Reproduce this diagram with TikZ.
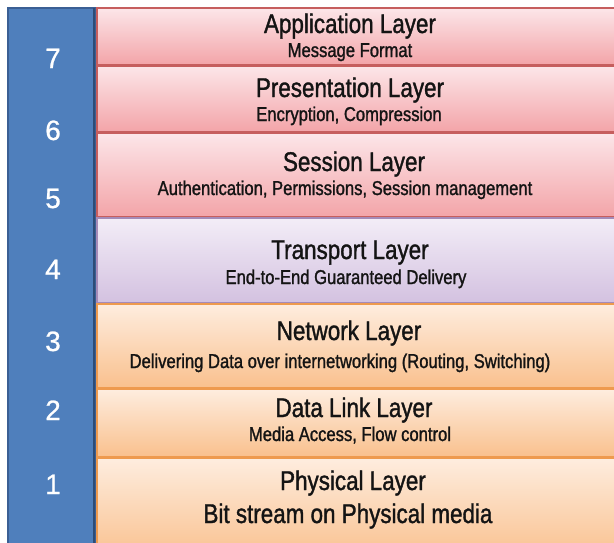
\documentclass[tikz,border=0pt]{standalone}
\usepackage{fontspec}
\setmainfont{Liberation Sans}
\newfontfamily\condfont{Liberation Sans}[FakeStretch=0.83,FakeBold=1.3]
\newfontfamily\numfont{Liberation Sans}[FakeBold=0.8]
\definecolor{colblue}{HTML}{4F7FBC}
\definecolor{colblueline}{HTML}{3A5F94}
\definecolor{redtop}{HTML}{FCE6E9}
\definecolor{redbot}{HTML}{F3A4A8}
\definecolor{redline}{HTML}{C65E5E}
\definecolor{purtop}{HTML}{F3EDF7}
\definecolor{purbot}{HTML}{D3C1E0}
\definecolor{purline}{HTML}{A58BB8}
\definecolor{ortop}{HTML}{FEEDDF}
\definecolor{orbot}{HTML}{F9C08D}
\definecolor{orline}{HTML}{EE9A4E}
\tikzset{
  redlayer/.style={top color=redtop,bottom color=redbot,draw=redline,line width=1.6pt},
  purlayer/.style={top color=purtop,bottom color=purbot,draw=purline,line width=1.6pt},
  orlayer/.style={top color=ortop,bottom color=orbot,draw=orline,line width=1.6pt},
  title/.style={anchor=base,inner sep=0pt,font=\condfont\fontsize{27}{31}\selectfont,text=black!92},
  subtitle/.style={anchor=base,inner sep=0pt,font=\condfont\fontsize{20}{24}\selectfont,text=black!92},
  num/.style={anchor=base,inner sep=0pt,font=\numfont\fontsize{28}{32}\selectfont,text=white}
}
\begin{document}
\begin{tikzpicture}[x=1pt,y=-1pt]
\useasboundingbox (0,0) rectangle (614,542);
\fill[white] (0,0) rectangle (614,542);
% number column
\fill[colblue] (8,8) rectangle (95,560);
\draw[colblueline,line width=1.2pt] (8,560) -- (8,8) -- (95,8) -- (95,560);
\draw[colblueline!80!black,line width=2pt] (94,8) -- (94,560);
% layers
\draw[redlayer] (97,8) rectangle (620,65);
\draw[redlayer] (97,66) rectangle (620,132);
\draw[redlayer] (97,133) rectangle (620,217);
\draw[purlayer] (97,218) rectangle (620,303);
\draw[orlayer] (97,304) rectangle (620,388);
\draw[orlayer] (97,389) rectangle (620,457);
\draw[orlayer] (97,458) rectangle (620,560);
% numbers
\node[num] (n7) at (53,68) {7};
\node[num] (n6) at (53,140) {6};
\node[num] (n5) at (53,208) {5};
\node[num] (n4) at (53,279) {4};
\node[num] (n3) at (53,351) {3};
\node[num] (n2) at (53,420) {2};
\node[num] (n1) at (53,494) {1};
% texts
\node[title] (t7) at (350,33) {Application Layer};
\node[subtitle] (s7) at (350,57) {Message Format};
\node[title] (t6) at (350,97) {Presentation Layer};
\node[subtitle] (s6) at (349,121) {Encryption, Compression};
\node[title] (t5) at (354,171) {Session Layer};
\node[subtitle] (s5) at (345,195) {Authentication, Permissions, Session management};
\node[title] (t4) at (350,259) {Transport Layer};
\node[subtitle] (s4) at (346,284) {End-to-End Guaranteed Delivery};
\node[title] (t3) at (349,340) {Network Layer};
\node[subtitle] (s3) at (340,368) {Delivering Data over internetworking (Routing, Switching)};
\node[title] (t2) at (354,417) {Data Link Layer};
\node[subtitle] (s2) at (350,441) {Media Access, Flow control};
\node[title] (t1) at (353,490) {Physical Layer};
\node[title] (s1) at (348,523) {Bit stream on Physical media};
\end{tikzpicture}
\end{document}
